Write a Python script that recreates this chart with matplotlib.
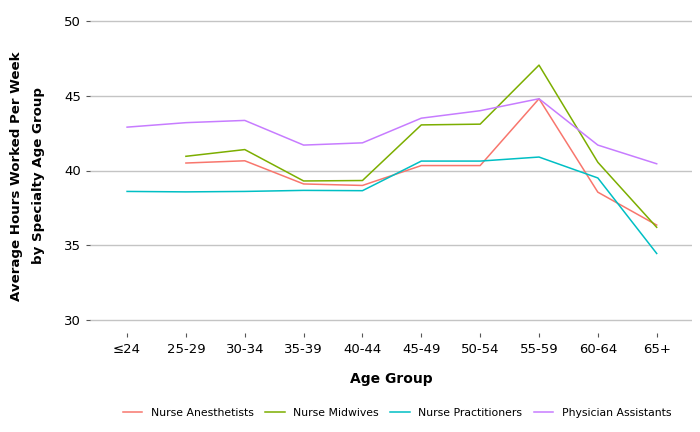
import matplotlib.pyplot as plt
import numpy as np

age_groups = ['≤24', '25-29', '30-34', '35-39', '40-44', '45-49', '50-54', '55-59', '60-64', '65+']

nurse_anesthetists = [np.nan, 40.5, 40.65, 39.1, 39.0, 40.33, 40.33, 44.8, 38.55, 36.35]
nurse_midwives = [np.nan, 40.95, 41.4, 39.3, 39.33, 43.05, 43.1, 47.05, 40.55, 36.2]
nurse_practitioners = [38.6, 38.57, 38.6, 38.67, 38.65, 40.63, 40.63, 40.9, 39.5, 34.45]
physician_assistants = [42.9, 43.2, 43.35, 41.7, 41.85, 43.5, 44.0, 44.8, 41.7, 40.45]

series = [('Nurse Anesthetists', nurse_anesthetists, '#F8766D'),
          ('Nurse Midwives', nurse_midwives, '#7CAE00'),
          ('Nurse Practitioners', nurse_practitioners, '#00BFC4'),
          ('Physician Assistants', physician_assistants, '#C77CFF')]

W, H = 700, 432
fig = plt.figure(figsize=(W / 100, H / 100), dpi=100)
ax = fig.add_axes([90 / W, (H - 333) / H, (692 - 90) / W, (333 - 19) / H])

x = np.arange(len(age_groups))
for name, vals, col in series:
    ax.plot(x, vals, color=col, lw=1.1, label=name)

ax.set_xlim(-0.63, 9.6)
ax.set_ylim(30 - 13 / 14.95, 50 + 2 / 14.95)
ax.set_yticks([30, 35, 40, 45, 50])
ax.set_xticks(x)
ax.set_xticklabels(age_groups)
ax.grid(axis='y', color='#c4c4c4', lw=1)
ax.set_axisbelow(True)
for s in ax.spines.values():
    s.set_visible(False)
ax.tick_params(axis='both', colors='#555555', length=3, labelcolor='black', labelsize=9.5)
ax.tick_params(axis='x', pad=4)

ax.set_xlabel('Age Group', fontweight='bold', fontsize=10, labelpad=12)
ax.set_ylabel('Average Hours Worked Per Week\nby Specialty Age Group', fontweight='bold',
              fontsize=9.6, labelpad=14, linespacing=1.9)

fig.legend(loc='center', bbox_to_anchor=(397 / W, (H - 413) / H), ncol=4, frameon=False,
           fontsize=7.8, handlelength=1.8, columnspacing=1.05)

fig.savefig('out.png', dpi=100)
